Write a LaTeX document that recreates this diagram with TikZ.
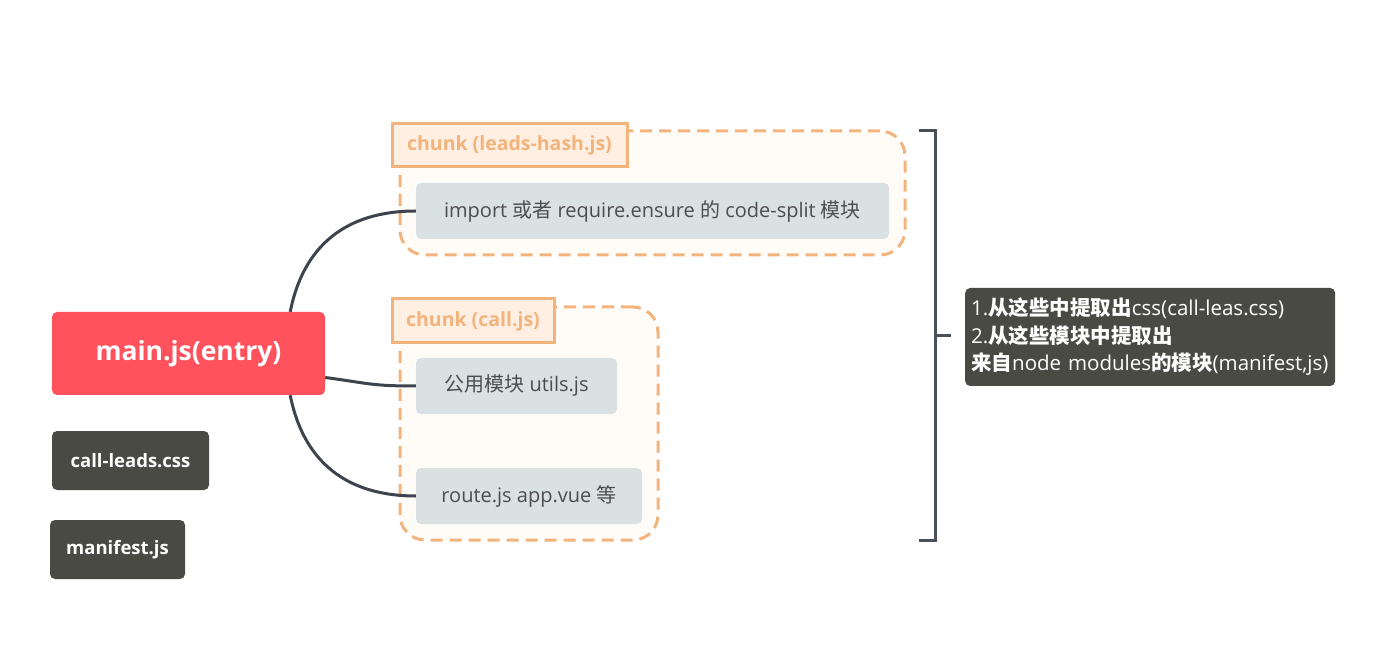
\documentclass[tikz,border=0pt]{standalone}
\usepackage{fontspec}
\setmainfont{Open Sans}
\newfontfamily\cjk{Noto Sans CJK SC}
\definecolor{redbox}{HTML}{FF525D}
\definecolor{darkbox}{HTML}{4A4A45}
\definecolor{orangeline}{HTML}{F2B47C}
\definecolor{labelfill}{HTML}{FFEFE2}
\definecolor{chunkfill}{HTML}{FFFCF8}
\definecolor{itemfill}{HTML}{DAE1E3}
\definecolor{itemtext}{HTML}{4D4D4D}
\definecolor{linecol}{HTML}{3E444D}
\definecolor{bracketcol}{HTML}{4A505A}
\begin{document}
\begin{tikzpicture}[x=1pt,y=-1pt,
  box/.style={rounded corners=5pt, inner sep=0pt, align=center},
  mainbox/.style={box, fill=redbox, text=white, font=\fontsize{26.5}{30}\selectfont\bfseries},
  darkitem/.style={box, fill=darkbox, text=white, font=\fontsize{18.5}{22}\selectfont\bfseries},
  chunkbox/.style={rounded corners=25pt, fill=chunkfill, draw=orangeline, line width=3pt, dash pattern=on 12pt off 7pt, inner sep=0pt},
  chunklabel/.style={fill=labelfill, draw=orangeline, line width=3pt, text=orangeline, inner sep=0pt, font=\fontsize{19.5}{22}\selectfont\bfseries},
  itembox/.style={box, fill=itemfill, text=itemtext, font=\fontsize{20}{24}\selectfont},
  conn/.style={draw=linecol, line width=3pt},
  notebox/.style={box, fill=darkbox, text=white, align=left, font=\fontsize{20.5}{27.5}\selectfont},
]
\useasboundingbox (0,0) rectangle (1385,668);
\fill[white] (0,0) rectangle (1385,668);

% containers
\node[chunkbox, minimum width=505pt, minimum height=124pt] (chunkA) at (652.5,193) {};
\node[chunkbox, minimum width=258pt, minimum height=233pt] (chunkB) at (529,423.5) {};
\node[chunklabel, minimum width=235pt, minimum height=43pt] (labA) at (509.5,145.5) {chunk (leads-hash.js)};
\node[chunklabel, minimum width=162pt, minimum height=44pt] (labB) at (473,321) {chunk (call.js)};

% items
\node[itembox, minimum width=473pt, minimum height=56pt] (item1) at (652.5,211) {import {\cjk 或者} require.ensure {\cjk 的} code-split {\cjk 模块}};
\node[itembox, minimum width=201pt, minimum height=56pt] (item2) at (516.5,386) {{\cjk 公用模块} utils.js};
\node[itembox, minimum width=226pt, minimum height=56pt] (item3) at (529,496) {route.js app.vue {\cjk 等}};

% left nodes
\node[mainbox, minimum width=273pt, minimum height=83pt] (main) at (188.5,353.5) {main.js(entry)};
\node[darkitem, minimum width=157pt, minimum height=59pt] (css) at (130.5,460.5) {call-leads.css};
\node[darkitem, minimum width=135pt, minimum height=59pt] (manifest) at (117.5,549.5) {manifest.js};

% connectors
\draw[conn] ([xshift=-35pt]main.north east) .. controls +(15,-75) and +(-60,0) .. (item1.west);
\draw[conn] ([yshift=-24pt]main.east) .. controls +(45,6) and +(-45,0) .. (item2.west);
\draw[conn] ([xshift=-35pt]main.south east) .. controls +(15,75) and +(-60,0) .. (item3.west);

% bracket
\coordinate (bt1) at (919,131);
\coordinate (bt2) at (935,131);
\coordinate (bb2) at (935,540);
\coordinate (bb1) at (919,540);
\coordinate (bm1) at (935,336);
\coordinate (bm2) at (951,336);
\draw[draw=bracketcol, line width=3pt] (bt1) -- (bt2) -- (bb2) -- (bb1);
\draw[draw=bracketcol, line width=3pt] (bm1) -- (bm2);

% note
\node[notebox, minimum width=370pt, minimum height=98pt, text width=358pt, anchor=west] (note) at (965,337) {1.{\cjk\bfseries 从这些中提取出}css(call-leas.css)\\2.{\cjk\bfseries 从这些模块中提取出}\\{\cjk\bfseries 来自}node modules{\cjk\bfseries 的模块}(manifest,js)};
\end{tikzpicture}
\end{document}
